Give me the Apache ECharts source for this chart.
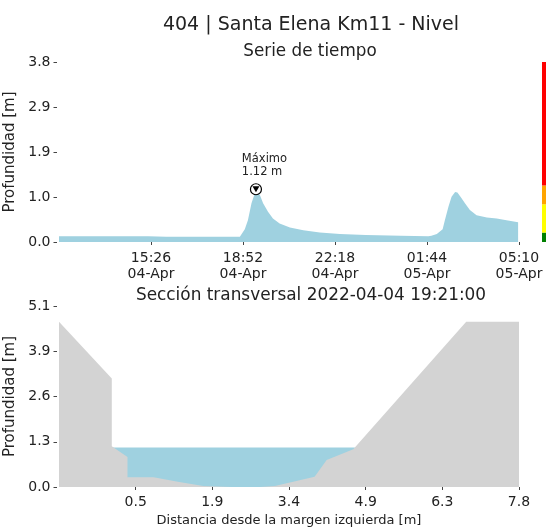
<!DOCTYPE html>
<html>
<head>
<meta charset="utf-8">
<script src="https://cdn.jsdelivr.net/npm/echarts@6/dist/echarts.min.js"></script>
<style>
html,body{margin:0;padding:0;background:#fff;}
#chart{width:546px;height:527px;}
</style>
</head>
<body>
<div id="chart"></div>
<script>
// ---------- Top chart: time series ----------
const seriesStart = '2022-04-04T12:00';
const seriesTimes = [
  '2022-04-04T12:00','2022-04-04T12:40','2022-04-04T13:20','2022-04-04T14:00','2022-04-04T14:40',
  '2022-04-04T15:20','2022-04-04T16:00','2022-04-04T16:40','2022-04-04T17:20','2022-04-04T18:00',
  '2022-04-04T18:45','2022-04-04T18:56','2022-04-04T19:03','2022-04-04T19:11','2022-04-04T19:17',
  '2022-04-04T19:21','2022-04-04T19:24','2022-04-04T19:30','2022-04-04T19:37','2022-04-04T19:48',
  '2022-04-04T19:59','2022-04-04T20:14','2022-04-04T20:37','2022-04-04T21:07','2022-04-04T21:44',
  '2022-04-04T22:29','2022-04-04T23:27','2022-04-05T00:45','2022-04-05T01:47','2022-04-05T01:54',
  '2022-04-05T02:06','2022-04-05T02:19','2022-04-05T02:24','2022-04-05T02:32','2022-04-05T02:39',
  '2022-04-05T02:47','2022-04-05T02:52','2022-04-05T02:59','2022-04-05T03:09','2022-04-05T03:20',
  '2022-04-05T03:35','2022-04-05T03:58','2022-04-05T04:20','2022-04-05T04:42','2022-04-05T05:08'
];
const seriesDepth = [
  0.12,0.12,0.12,0.12,0.12,
  0.12,0.11,0.11,0.11,0.11,
  0.11,0.27,0.46,0.82,0.99,
  1.12,1.10,0.99,0.82,0.64,
  0.50,0.39,0.31,0.25,0.20,
  0.17,0.15,0.13,0.12,0.13,
  0.17,0.27,0.46,0.75,0.96,
  1.06,1.05,0.96,0.82,0.68,
  0.57,0.52,0.50,0.46,0.42
];
const topXEnd = '2022-04-05T05:10';
const topXTickTimes = ['2022-04-04T15:26','2022-04-04T18:52','2022-04-04T22:18','2022-04-05T01:44','2022-04-05T05:10'];
const topXTickLabels = ['15:26\n04-Apr','18:52\n04-Apr','22:18\n04-Apr','01:44\n05-Apr','05:10\n05-Apr'];
const topYMax = 3.82;
const topYTickValues = [0, 0.955, 1.91, 2.865, 3.82];
const topYTickLabels = ['0.0','1.0','1.9','2.9','3.8'];

// alert level colour bar
const levelBounds = [0, 0.2, 0.8, 1.2, 3.82];
const levelColors = ['#008000','#ffff00','#ffa500','#ff0000'];

// ---------- Bottom chart: cross section ----------
const groundX = [-1.0, 0.01, 0.01, 0.31, 0.31, 0.81, 1.30, 1.76, 2.30, 2.84, 3.13, 3.89, 4.12, 4.63, 6.79, 7.8];
const groundY = [4.69, 3.08, 1.16, 0.85, 0.28, 0.28, 0.14, 0.03, 0.0, 0.0, 0.03, 0.29, 0.77, 1.07, 4.69, 4.69];
const waterLevel = 1.12;
const waterEdgesX = [0.01, 4.66];
const botXMin = -1.0, botXMax = 7.8;
const botXTickValues = [0.467, 1.933, 3.4, 4.867, 6.333, 7.8];
const botXTickLabels = ['0.5','1.9','3.4','4.9','6.3','7.8'];
const botYMax = 5.14;
const botYTickValues = [0, 1.285, 2.57, 3.855, 5.14];
const botYTickLabels = ['0.0','1.3','2.6','3.9','5.1'];

const mainTitle = '404 | Santa Elena Km11 - Nivel';
const topTitle = 'Serie de tiempo';
const botTitle = 'Sección transversal 2022-04-04 19:21:00';
const yName = 'Profundidad [m]';
const botXName = 'Distancia desde la margen izquierda [m]';

// ---------- build ----------
function toMin(s){ return (Date.parse(s + ':00Z') - Date.parse(seriesStart + ':00Z')) / 60000; }
const topData = seriesTimes.map((t,i)=>[toMin(t), seriesDepth[i]]);
const topXTickVals = topXTickTimes.map(toMin);
const groundData = groundX.map((x,i)=>[x, groundY[i]]);
const waterData = waterEdgesX.map(x=>[x, waterLevel]);

function lookup(vals, labels){
  return function(v){
    for (let i=0;i<vals.length;i++){ if (Math.abs(vals[i]-v) < 1e-6*Math.max(1,Math.abs(v))+1e-9) return labels[i]; }
    return '';
  };
}

const FONT = 'DejaVu Sans';
const TXT = '#222';
const BLUE = '#9fd1e0';
const GRAY = '#d3d3d3';

const chart = echarts.init(document.getElementById('chart'), null, {renderer:'canvas'});

const yAxisCommon = {
  type:'value', min:0, offset:2,
  axisLine:{show:false, onZero:false},
  splitLine:{show:false},
  name: yName, nameLocation:'middle', nameGap:39,
  nameTextStyle:{fontFamily:FONT, fontSize:15, color:TXT}
};
const xAxisCommon = {
  type:'value',
  axisLine:{show:false, onZero:false},
  splitLine:{show:false}
};

chart.setOption({
  animation:false,
  backgroundColor:'#fff',
  textStyle:{fontFamily:FONT},
  title:[
    {text:mainTitle, left:306, top:11, textAlign:'center', textStyle:{fontFamily:FONT, fontSize:19, fontWeight:'normal', color:TXT}},
    {text:topTitle, left:305, top:38, textAlign:'center', textStyle:{fontFamily:FONT, fontSize:16.8, fontWeight:'normal', color:TXT}},
    {text:botTitle, left:306, top:282, textAlign:'center', textStyle:{fontFamily:FONT, fontSize:16.9, fontWeight:'normal', color:TXT}}
  ],
  grid:[
    {left:59, top:62, width:460, height:180, outerBoundsMode:'none', containLabel:false},
    {left:59, top:306, width:460, height:181, outerBoundsMode:'none', containLabel:false},
    {left:542, top:62, width:4, height:180, outerBoundsMode:'none', containLabel:false}
  ],
  xAxis:[
    Object.assign({}, xAxisCommon, {
      gridIndex:0, min:0, max:toMin(topXEnd),
      axisTick:{show:true, length:3, customValues:topXTickVals, lineStyle:{color:'#444', width:1}},
      axisLabel:{customValues:topXTickVals, formatter:lookup(topXTickVals, topXTickLabels),
        fontFamily:FONT, fontSize:14, color:TXT, lineHeight:16, margin:8, hideOverlap:false}
    }),
    Object.assign({}, xAxisCommon, {
      gridIndex:1, min:botXMin, max:botXMax,
      axisTick:{show:true, length:3, customValues:botXTickValues, lineStyle:{color:'#444', width:1}},
      axisLabel:{customValues:botXTickValues, formatter:lookup(botXTickValues, botXTickLabels),
        fontFamily:FONT, fontSize:14, color:TXT, margin:8, hideOverlap:false},
      name: botXName, nameLocation:'middle', nameGap:27,
      nameTextStyle:{fontFamily:FONT, fontSize:13, color:TXT}
    }),
    {gridIndex:2, type:'value', min:0, max:1, show:false}
  ],
  yAxis:[
    Object.assign({}, yAxisCommon, {
      gridIndex:0, max:topYMax,
      axisTick:{show:true, length:3.5, customValues:topYTickValues, lineStyle:{color:'#444', width:1}},
      axisLabel:{customValues:topYTickValues, formatter:lookup(topYTickValues, topYTickLabels),
        fontFamily:FONT, fontSize:14, color:TXT, margin:6.5}
    }),
    Object.assign({}, yAxisCommon, {
      gridIndex:1, max:botYMax,
      axisTick:{show:true, length:3.5, customValues:botYTickValues, lineStyle:{color:'#444', width:1}},
      axisLabel:{customValues:botYTickValues, formatter:lookup(botYTickValues, botYTickLabels),
        fontFamily:FONT, fontSize:14, color:TXT, margin:6.5}
    }),
    {gridIndex:2, type:'value', min:0, max:topYMax, show:false}
  ],
  series:[
    {
      type:'line', xAxisIndex:0, yAxisIndex:0, data:topData,
      showSymbol:false, symbol:'none', lineStyle:{width:0}, areaStyle:{color:BLUE, opacity:1},
      markPoint:{
        silent:true,
        data:[
          {type:'max', symbol:'circle', symbolSize:11,
           itemStyle:{color:'#fff', borderColor:'#000', borderWidth:1.2},
           label:{show:true, position:[-8,-31], align:'left', verticalAlign:'top',
             fontFamily:FONT, fontSize:11.5, lineHeight:13.5, color:TXT,
             formatter:function(p){ return 'Máximo\n' + p.value.toFixed(2) + ' m'; }}},
          {type:'max', symbol:'triangle', symbolRotate:180, symbolSize:[7,6],
           itemStyle:{color:'#000'}, label:{show:false}}
        ]
      }
    },
    {
      type:'line', xAxisIndex:1, yAxisIndex:1, data:waterData, z:2,
      showSymbol:false, symbol:'none', lineStyle:{width:0}, areaStyle:{color:BLUE, opacity:1}
    },
    {
      type:'line', xAxisIndex:1, yAxisIndex:1, data:groundData, z:3,
      showSymbol:false, symbol:'none', lineStyle:{width:0}, areaStyle:{color:GRAY, opacity:1}
    },
    {
      type:'line', xAxisIndex:2, yAxisIndex:2, data:[[0,0]], symbol:'none', lineStyle:{width:0},
      markArea:{silent:true,
        data: levelColors.map((c,i)=>[
          {xAxis:0, yAxis:levelBounds[i], itemStyle:{color:c, opacity:1}},
          {xAxis:1, yAxis:levelBounds[i+1]}
        ])
      }
    }
  ]
});
</script>
</body>
</html>
